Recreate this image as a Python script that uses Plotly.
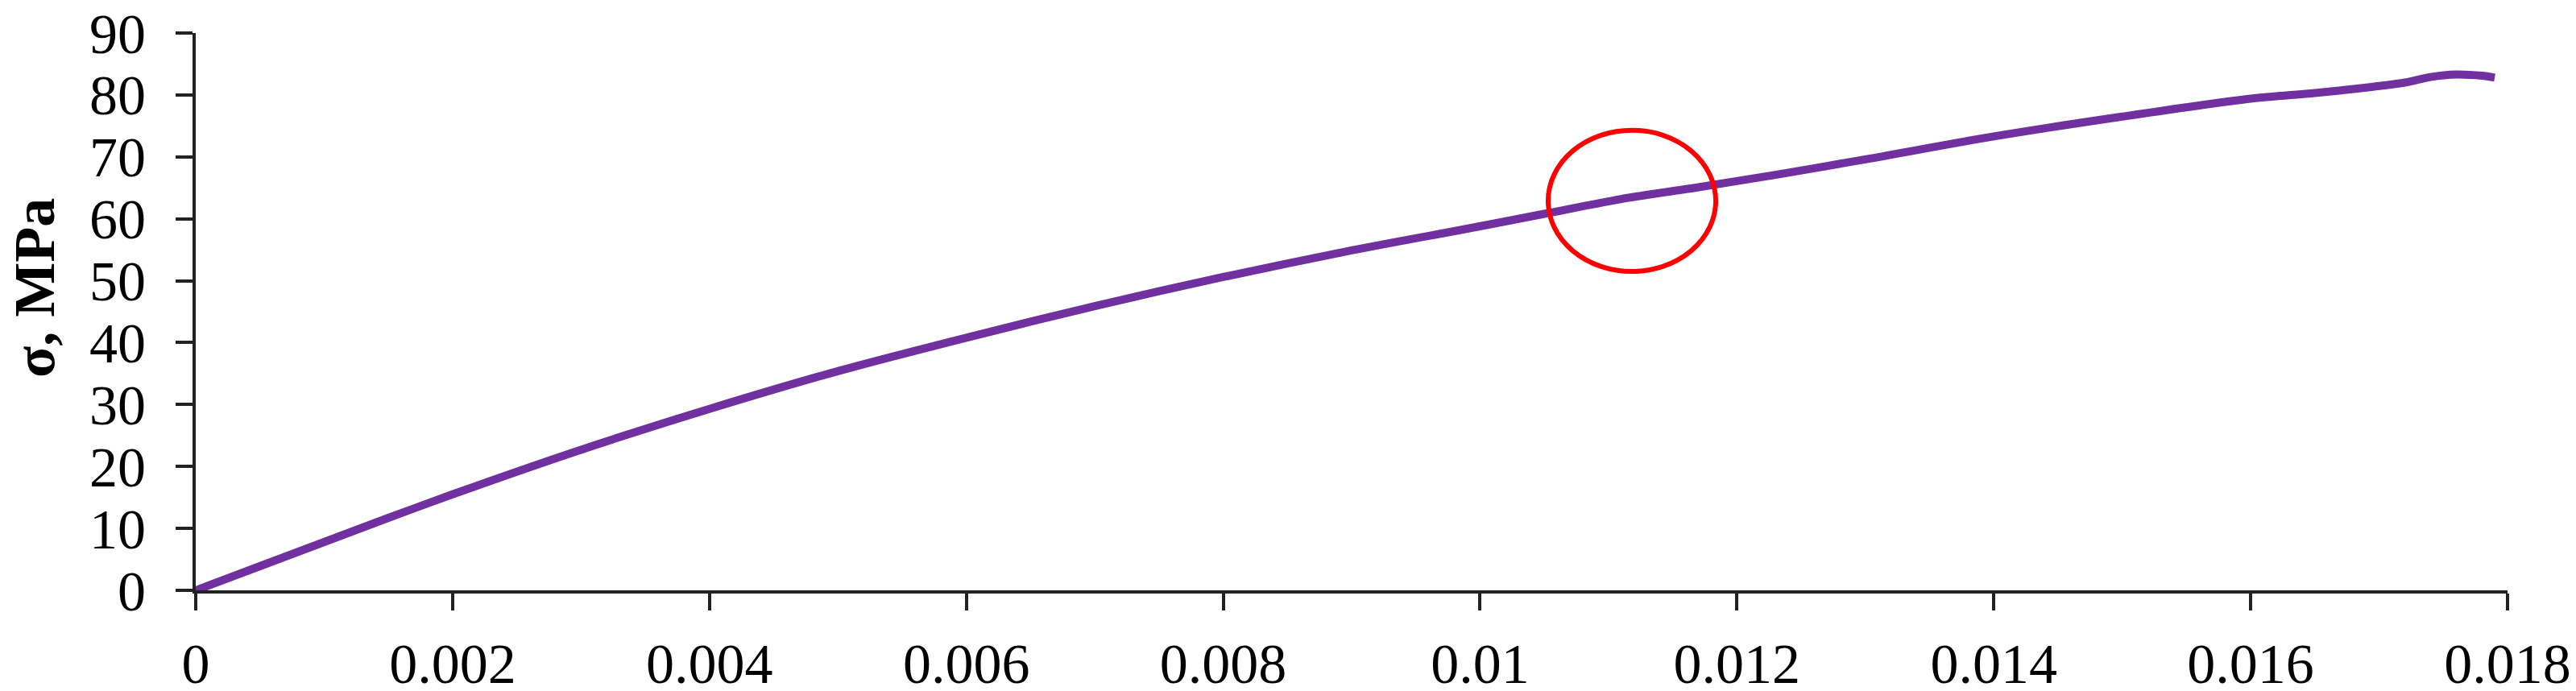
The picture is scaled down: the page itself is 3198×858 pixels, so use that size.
import plotly.graph_objects as go

# strain (dimensionless) and stress (MPa)
strain = [0, 0.0005, 0.001, 0.0015, 0.002, 0.003, 0.004, 0.005, 0.006, 0.007,
          0.008, 0.009, 0.0098, 0.0105, 0.0111, 0.0117, 0.0123, 0.013, 0.014,
          0.015, 0.016, 0.0165, 0.0169, 0.0172, 0.0174, 0.0176, 0.0178, 0.0179]
stress = [0, 3.9, 7.8, 11.7, 15.5, 22.7, 29.3, 35.4, 40.8, 45.9,
          50.6, 54.9, 58.0, 60.8, 63.2, 65.1, 67.1, 69.6, 73.3,
          76.5, 79.4, 80.3, 81.2, 82.0, 82.9, 83.3, 83.1, 82.8]

x_ticks = [0, 0.002, 0.004, 0.006, 0.008, 0.01, 0.012, 0.014, 0.016, 0.018]
x_tick_labels = ["0", "0.002", "0.004", "0.006", "0.008", "0.01", "0.012", "0.014", "0.016", "0.018"]
y_ticks = [0, 10, 20, 30, 40, 50, 60, 70, 80, 90]
y_title = "<b>σ, MPa</b>"

# highlighted region (red ellipse) in data units
circle_x0, circle_x1 = 0.01053, 0.011835
circle_y0, circle_y1 = 51.5, 74.3

FONT = "Liberation Serif, Times New Roman, serif"

fig = go.Figure()
fig.add_trace(go.Scatter(
    x=strain, y=stress, mode="lines",
    line=dict(color="#7030A0", width=10, shape="spline", smoothing=0.8),
    showlegend=False, hoverinfo="skip"))

fig.add_shape(type="circle", xref="x", yref="y",
              x0=circle_x0, x1=circle_x1, y0=circle_y0, y1=circle_y1,
              line=dict(color="#FF0000", width=6))

# y-axis title placed as a rotated annotation left of the tick labels
fig.add_annotation(text=y_title, xref="paper", yref="paper",
                   x=0, y=0.542, xanchor="center", yanchor="middle",
                   xshift=-200, textangle=-90, showarrow=False,
                   font=dict(family=FONT, size=72, color="black"))

# the page body adds an 8px offset, so the figure is 8px smaller
fig.update_layout(
    width=3190, height=850,
    margin=dict(l=235, r=85, t=33, b=125, autoexpand=False),
    paper_bgcolor="white", plot_bgcolor="white",
    font=dict(family=FONT, size=70, color="black"),
    xaxis=dict(range=[0, 0.018], tickvals=x_ticks, ticktext=x_tick_labels,
               showgrid=False, zeroline=False, showline=True,
               linecolor="#222222", linewidth=4, ticks="outside",
               ticklen=21, tickwidth=4, tickcolor="#222222",
               ticklabelstandoff=6, ticklabeloverflow="allow",
               tickfont=dict(family=FONT, size=70, color="black"),
               automargin=False),
    yaxis=dict(range=[0, 90], tickvals=y_ticks,
               showgrid=False, zeroline=False, showline=True,
               linecolor="#222222", linewidth=4, ticks="outside",
               ticklen=21, tickwidth=4, tickcolor="#222222",
               ticklabelstandoff=23, ticklabeloverflow="allow",
               tickfont=dict(family=FONT, size=70, color="black"),
               automargin=False),
)

fig.write_html("out.html")
